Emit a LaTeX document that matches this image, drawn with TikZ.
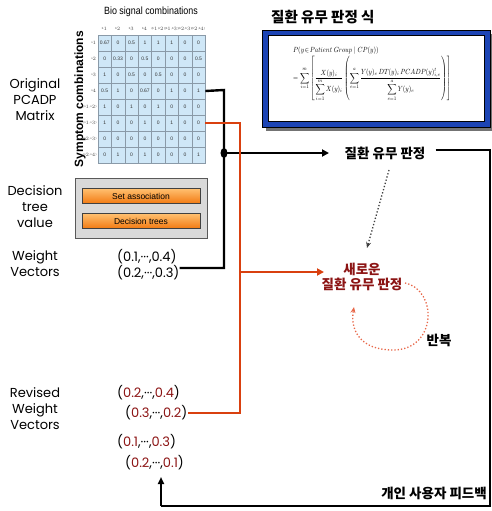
\documentclass[tikz,border=0pt]{standalone}
\usepackage{fontspec}
\setmainfont{Liberation Sans}
\newfontfamily\kr{Noto Sans CJK KR}
\newfontfamily\gothic{Poppins}
\usetikzlibrary{arrows.meta,calc,shadows}
\definecolor{cellblue}{HTML}{CFE7F7}
\definecolor{gridgray}{HTML}{8A9AA8}
\definecolor{linered}{HTML}{D9400F}
\definecolor{darkred}{HTML}{8C1414}
\definecolor{frameblue}{HTML}{1C44B4}
\definecolor{loopred}{HTML}{E8684A}
\definecolor{btnlight}{HTML}{FFC070}
\definecolor{btndark}{HTML}{F27A12}
\newcommand{\dr}[1]{\textcolor{darkred}{#1}}
\begin{document}
\begin{tikzpicture}[x=1pt,y=-1pt,
  cell/.style={draw=gridgray,fill=cellblue,minimum width=13.4pt,minimum height=16pt,inner sep=0pt,
    font=\fontsize{5}{5}\selectfont,text=black!80},
  hdr/.style={inner sep=0pt,font=\fontsize{2.8}{3}\selectfont,text=black!70},
  sidelabel/.style={align=center,inner sep=0pt,font=\gothic\fontsize{13}{16}\selectfont},
  vec/.style={inner sep=0pt,anchor=west,font=\gothic\fontsize{13}{13}\selectfont},
  krlabel/.style={inner sep=0pt,font=\kr\bfseries\fontsize{13.5}{15}\selectfont},
  blackline/.style={line width=2.4pt,black},
  redline/.style={line width=2pt,linered},
  button/.style={draw=black!75,top color=btnlight,bottom color=btndark,minimum width=118pt,
    minimum height=15pt,inner sep=0pt,font=\fontsize{8.5}{9}\selectfont}]
\useasboundingbox (0,0) rectangle (492,511);

% ---------- PCADP matrix ----------
\node[inner sep=0pt,font=\fontsize{10.5}{10}\selectfont] (biotitle) at (151,12)
  {\addfontfeature{FakeStretch=0.85}Bio signal combinations};
\node[inner sep=0pt,rotate=90,font=\fontsize{12}{12}\selectfont\bfseries] (symtitle) at (80,99)
  {Symptom combinations};
\foreach \r/\vals in {1/{0.67,0,0.5,1,1,1,0,0},2/{0,0.33,0,0.5,0,0,0,0.5},
    3/{1,0,0.5,0,0.5,0,0,0},4/{0.5,1,0,0.67,0,1,0,1},5/{1,0,1,0,1,0,0,0},
    6/{1,0,0,1,0,1,0,0},7/{0,0,0,0,0,0,0,0},8/{0,1,0,1,0,0,0,1}}{
  \foreach \v [count=\c] in \vals {
    \node[cell] (m-\r-\c) at ({98+(\c-0.5)*13.4},{35+(\r-0.5)*16}) {\v};
  }
}
\foreach \h [count=\c] in {b$_1$,b$_2$,b$_3$,b$_4$,(b$_1$,b$_2$),(b$_1$,b$_3$),(b$_2$,b$_3$),(b$_2$,b$_4$)}
  \node[hdr] (ch-\c) at ({98+(\c-0.5)*13.4},29) {\h};
\foreach \h [count=\r] in {s$_1$,s$_2$,s$_3$,s$_4$,(s$_1$,s$_2$),(s$_1$,s$_3$),(s$_2$,s$_3$),(s$_2$,s$_4$)}
  \node[hdr,anchor=east] (rh-\r) at (96.8,{35+(\r-0.5)*16}) {\h};

\node[sidelabel] (orig) at (35,100) {Original\\PCADP\\Matrix};

% ---------- decision tree panel ----------
\node[draw=black!65,fill=black!15,minimum width=132pt,minimum height=60pt,inner sep=0pt] (panel) at (141,208) {};
\node[button] (setassoc) at (141,196) {Set association};
\node[button] (dtrees) at (141,221) {Decision trees};
\node[sidelabel] (dtv) at (35,207) {Decision\\tree\\value};

% ---------- weight vectors ----------
\node[sidelabel] (wv) at (35,264) {Weight\\Vectors};
\node[vec] (w1) at (117,257) {(0.1,···,0.4)};
\node[vec] (w2) at (117,273) {(0.2,···,0.3)};

\node[sidelabel] (rwv) at (35,409) {Revised\\Weight\\Vectors};
\node[vec] (r1) at (117,393) {(\dr{0.2},···,\dr{0.4})};
\node[vec] (r2) at (125,413) {(\dr{0.3},···,\dr{0.2})};
\node[vec] (r3) at (117,442) {(\dr{0.1},···,\dr{0.3})};
\node[vec] (r4) at (125,463) {(\dr{0.2},···,\dr{0.1})};

% ---------- formula box ----------
\node[krlabel,font=\kr\bfseries\fontsize{14.5}{14}\selectfont,anchor=west] (ftitle) at (271,17) {질환 유무 판정 식};
\fill[black!55] (266,34) rectangle (494,131);
\node[draw=black,fill=frameblue,line width=0.4pt,minimum width=228pt,minimum height=97pt,inner sep=0pt] (fbox) at (376,78.5) {};
\node[draw=black,fill=white,line width=0.6pt,minimum width=216pt,minimum height=86pt,inner sep=0pt] (finner) at (376,78.5) {};
\node[inner sep=0pt,anchor=north west] (formula) at (293,46)
 {\resizebox*{158pt}{55pt}{\begin{tabular}{@{}l@{}}
  $P(y\!\in\! Patient\ Group\mid CP(y))$\\[1pt]
  $\displaystyle=\sum_{i=1}^{m}\left[\frac{X(y)_i}{\displaystyle\sum_{i=1}^{m}X(y)_i}
   \left(\sum_{e=1}^{a}\frac{Y(y)_e\,DT(y)_i\,PCADP(y)^{t}_{i,e}}{\displaystyle\sum_{e=1}^{a}Y(y)_e}\right)\right]$
  \end{tabular}}};

% ---------- judgements ----------
\node[krlabel] (judge) at (385,153) {질환 유무 판정};
\node[krlabel,text=darkred,align=center,font=\kr\bfseries\fontsize{13.5}{15}\selectfont] (newjudge) at (362,277) {새로운\\질환 유무 판정};
\node[krlabel] (repeat) at (439,340) {반복};
\node[krlabel,anchor=east] (feedback) at (487,493) {개인 사용자 피드백};

% ---------- connectors ----------
\coordinate (bt) at (224,90);
\coordinate (bb) at (224,268);
\coordinate (dot) at (224,153);
\coordinate (jin) at (329,153);
\draw[blackline] (m-4-8.east) -- (bt) -- (bb) -- (w2.east |- bb);
\fill (dot) ellipse (3.5pt and 5pt);
\draw[blackline,-{Triangle[length=7pt,width=7pt]}] (dot) -- (jin);

\coordinate (rt) at (240,123);
\coordinate (rb) at (240,413);
\coordinate (rj) at (240,272);
\coordinate (rin) at (324,272);
\draw[redline] (m-6-8.east |- rt) -- (rt) -- (rb) -- (r2.east |- rb);
\draw[redline,-{Triangle[length=7pt,width=7pt]}] (rj) -- (rin);

\coordinate (fbt) at (490,150);
\coordinate (fbb) at (490,506);
\coordinate (fbl) at (161,506);
\coordinate (fbin) at (161,477);
\draw[blackline,line cap=butt] ([xshift=10pt]judge.east |- fbt) -- (fbt) -- (fbb) -- (fbl);
\draw[blackline,-{Triangle[length=7pt,width=6pt]}] (fbl) -- (fbin);

\coordinate (ds) at (389,170);
\coordinate (de) at (367,248);
\draw[black!75,line width=1.3pt,dotted,-{Stealth[length=6pt,width=5pt]}] (ds) -- (de);

\coordinate (ls) at (405,283);
\coordinate (le) at (354,307);
\draw[loopred,line width=1.3pt,dotted,-{Stealth[length=6pt,width=5pt]}]
  (ls) .. controls (438,290) and (437,350) .. (393,350) .. controls (360,350) and (350,330) .. (le);
\end{tikzpicture}
\end{document}
